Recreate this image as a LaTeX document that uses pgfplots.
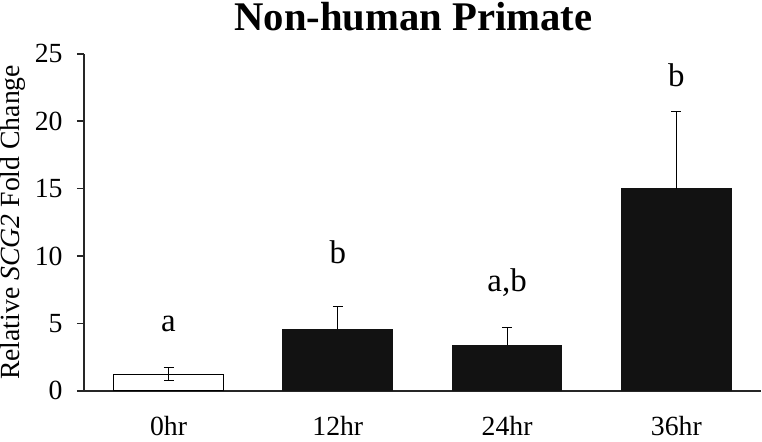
\documentclass[border=0pt]{standalone}
\usepackage{pgfplots}
\pgfplotsset{compat=1.18}
\usepackage{fontspec}
\setmainfont{Liberation Serif}

\pgfplotstableread{
x  y     err
1  4.59  1.70
2  3.40  1.33
3  15.00 5.75
}\blackbars

\pgfplotstableread{
x  y     lbl
0  4.44  a
1  9.42  b
2  7.40  a,b
3  22.56 b
}\letters

\begin{document}
\begin{tikzpicture}
\begin{axis}[
    scale only axis,
    width=339.5pt, height=169pt,
    xmin=-0.5, xmax=3.5,
    ymin=0, ymax=25,
    ytick={0,5,...,25},
    xtick={0,1,2,3},
    xticklabels={0hr,12hr,24hr,36hr},
    axis x line*=bottom,
    axis y line*=left,
    axis line style={-, line width=1pt, black!85},
    major x tick style={draw=none},
    major y tick style={line width=0.8pt, black!85},
    tick align=outside,
    major tick length=3.5pt,
    /pgf/number format/assume math mode=true,
    tick label style={font=\fontsize{13.9}{16}\selectfont, inner sep=0pt},
    xticklabel style={anchor=base, yshift=-19pt, text depth=3pt},
    yticklabel style={anchor=east, xshift=-7pt},
    ylabel={Relative \textit{SCG2} Fold Change},
    ylabel style={font=\fontsize{13.9}{16}\selectfont, inner sep=0pt,
        at={(axis description cs:-0.1245,0.5)}, anchor=north},
    every axis title shift=0pt,
    title={\textbf{Non-human Primate}},
    title style={font=\fontsize{20.4}{24}\selectfont, inner sep=0pt, text height=15.5pt,
        at={(axis description cs:0.5,1)}, anchor=base, yshift=11.5pt, xshift=-4.5pt},
    clip=false,
]
% white bar, 0hr
\addplot[ybar, bar width=55pt, bar shift=0pt, fill=white, draw=black, line width=0.5pt,
    error bars/.cd, y dir=both, y explicit,
    error bar style={line width=0.5pt, black},
    error mark options={rotate=90, mark size=2.5pt, line width=0.5pt, black}]
    coordinates {(0,1.25) +- (0,0.45)};
% black bars
\addplot[ybar, bar width=55pt, bar shift=0pt, fill=black!93, draw=black!93, line width=0.5pt,
    error bars/.cd, y dir=plus, y explicit,
    error bar style={line width=0.5pt, black},
    error mark options={rotate=90, mark size=2.5pt, line width=0.5pt, black}]
    table[x=x, y=y, y error=err] {\blackbars};
% significance letters
\addplot[draw=none, mark=none, nodes near coords, point meta=explicit symbolic,
    nodes near coords style={anchor=base, inner sep=0pt,
        font=\fontsize{16.5}{19}\selectfont, black}]
    table[x=x, y=y, meta=lbl] {\letters};
\end{axis}
\end{tikzpicture}
\end{document}
